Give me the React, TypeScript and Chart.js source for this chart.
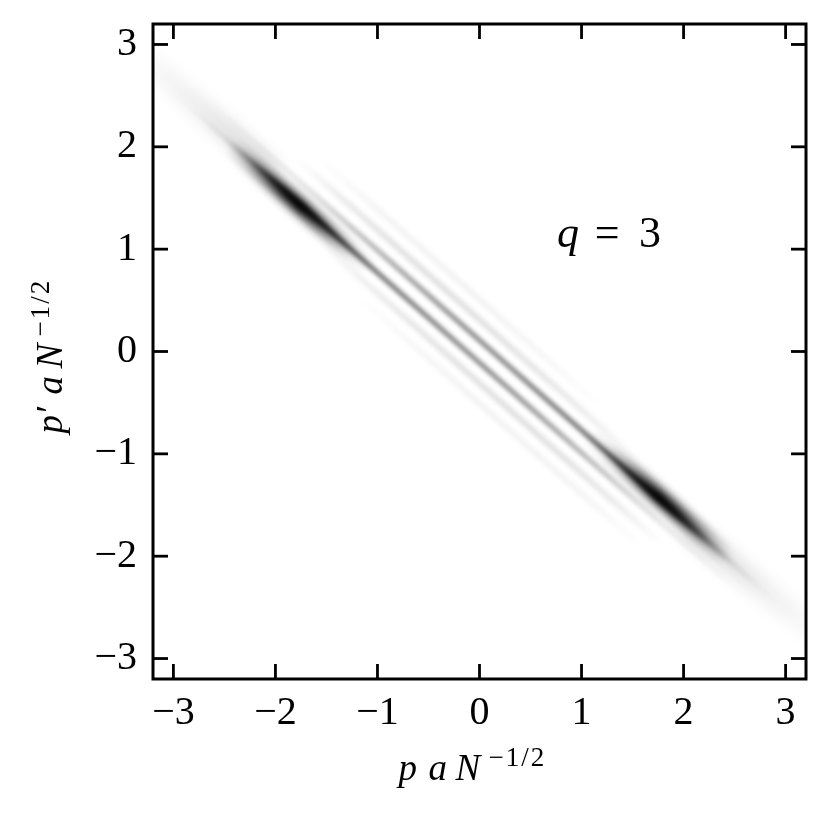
import React, { useEffect, useRef } from 'react';
import { Chart, registerables } from 'chart.js';

Chart.register(...registerables);

// ---- axes ----
const AXIS_MIN = -3.2;
const AXIS_MAX = 3.2;
const TICK_VALUES = [-3, -2, -1, 0, 1, 2, 3];

// ---- stripes of the density (endpoints in data units, darkness 0..1 sampled evenly from start to end) ----
const LOWER_MAIN_ENDS = [{ x: -3.0, y: 2.53 }, { x: 3.0, y: -2.75 }];
const LOWER_MAIN_DARK = [0, 0.02, 0.08, 0.3, 0.7, 0.9, 0.8, 0.62, 0.52, 0.5, 0.48, 0.46, 0.45, 0.43, 0.4, 0.36, 0.3, 0.24, 0.17, 0.11, 0.06, 0.03, 0.01, 0, 0];

const UPPER_MAIN_ENDS = [{ x: -3.0, y: 2.75 }, { x: 3.0, y: -2.53 }];
const UPPER_MAIN_DARK = [0, 0, 0.01, 0.03, 0.06, 0.11, 0.17, 0.24, 0.3, 0.36, 0.4, 0.43, 0.45, 0.46, 0.48, 0.5, 0.52, 0.62, 0.8, 0.9, 0.7, 0.3, 0.08, 0.02, 0];

const UL_LOBE_ENDS = [{ x: -2.45, y: 2.026 }, { x: -1.05, y: 0.794 }];
const UL_LOBE_DARK = [0, 0.25, 0.6, 0.9, 1.0, 0.75, 0.4, 0.12, 0];

const LR_LOBE_ENDS = [{ x: 1.05, y: -0.794 }, { x: 2.45, y: -2.026 }];
const LR_LOBE_DARK = [0, 0.12, 0.4, 0.75, 1.0, 0.9, 0.6, 0.25, 0];

const UL_TAIL_ENDS = [{ x: -3.3, y: 2.88 }, { x: -1.9, y: 1.65 }];
const UL_TAIL_DARK = [0.02, 0.04, 0.06, 0.09, 0.12, 0.12, 0];

const LR_TAIL_ENDS = [{ x: 1.9, y: -1.61 }, { x: 3.3, y: -2.75 }];
const LR_TAIL_DARK = [0, 0.12, 0.12, 0.09, 0.06, 0.04, 0.02];

const UP_FRINGE1_ENDS = [{ x: -1.8, y: 1.894 }, { x: 1.6, y: -1.098 }];
const UP_FRINGE1_DARK = [0, 0.1, 0.14, 0.15, 0.14, 0.12, 0.08, 0];

const DN_FRINGE1_ENDS = [{ x: -1.6, y: 1.098 }, { x: 1.8, y: -1.894 }];
const DN_FRINGE1_DARK = [0, 0.08, 0.12, 0.14, 0.15, 0.14, 0.1, 0];

const UP_FRINGE2_ENDS = [{ x: -1.6, y: 1.918 }, { x: 1.2, y: -0.546 }];
const UP_FRINGE2_DARK = [0, 0.05, 0.06, 0.06, 0.04, 0];

const DN_FRINGE2_ENDS = [{ x: -1.2, y: 0.546 }, { x: 1.6, y: -1.918 }];
const DN_FRINGE2_DARK = [0, 0.04, 0.06, 0.06, 0.05, 0];

// ---- texts ----
const Q_LABEL_POS = { x: 0.76, y: 1.02 };
const Q_LABEL = ['q', '=', '3'];
const X_TITLE = ['p', 'a', 'N', '\u22121/2'];
const Y_TITLE = ['p\u2032', 'a', 'N', '\u22121/2'];

const SERIF = '"Liberation Serif", "DejaVu Serif", serif';

function fmtTick(v: number): string {
  return v < 0 ? '\u2212' + Math.abs(v) : String(v);
}

function gradientColor(ctx: any) {
  const chart = ctx.chart;
  const xs = chart.scales.x;
  const ys = chart.scales.y;
  const ds = ctx.dataset;
  if (!xs || !ys || !chart.chartArea || !ds) return 'rgba(0,0,0,0)';
  const p0 = ds.data[0];
  const p1 = ds.data[ds.data.length - 1];
  const g = chart.ctx.createLinearGradient(
    xs.getPixelForValue(p0.x), ys.getPixelForValue(p0.y),
    xs.getPixelForValue(p1.x), ys.getPixelForValue(p1.y)
  );
  const prof: number[] = ds.profile;
  prof.forEach((a, i) => g.addColorStop(i / (prof.length - 1), `rgba(0,0,0,${a})`));
  return g;
}

function stripe(ends: { x: number; y: number }[], profile: number[], width: number, blur: number) {
  return {
    data: ends,
    profile,
    blur,
    borderWidth: width,
    borderColor: gradientColor,
    borderCapStyle: 'butt',
    pointRadius: 0,
    fill: false,
    tension: 0,
  } as any;
}

const blurPlugin = {
  id: 'stripeBlur',
  beforeDatasetDraw(chart: any, args: any) {
    const ds = chart.data.datasets[args.index];
    chart.ctx.save();
    chart.ctx.filter = `blur(${ds.blur || 0}px)`;
  },
  afterDatasetDraw(chart: any) {
    chart.ctx.restore();
  },
};

const decorPlugin = {
  id: 'decor',
  afterDraw(chart: any) {
    const { ctx, chartArea: a, scales } = chart;
    const x = scales.x;
    const y = scales.y;
    const TL = 15;
    ctx.save();
    ctx.strokeStyle = '#000';
    ctx.lineWidth = 2.8;
    ctx.lineCap = 'butt';
    const seg = (x1: number, y1: number, x2: number, y2: number) => {
      ctx.beginPath();
      ctx.moveTo(x1, y1);
      ctx.lineTo(x2, y2);
      ctx.stroke();
    };
    for (const v of TICK_VALUES) {
      const px = x.getPixelForValue(v);
      seg(px, a.bottom, px, a.bottom - TL);
      seg(px, a.top, px, a.top + TL);
      const py = y.getPixelForValue(v);
      seg(a.left, py, a.left + TL, py);
      seg(a.right, py, a.right - TL, py);
    }
    ctx.lineWidth = 3;
    ctx.strokeRect(a.left, a.top, a.right - a.left, a.bottom - a.top);

    ctx.fillStyle = '#000';
    ctx.textBaseline = 'alphabetic';
    ctx.textAlign = 'left';
    // x title
    const cx = (a.left + a.right) / 2;
    const bx = a.bottom + 101;
    ctx.font = `italic 37px ${SERIF}`;
    ctx.fillText(X_TITLE[0], cx - 81, bx);
    ctx.fillText(X_TITLE[1], cx - 51, bx);
    ctx.fillText(X_TITLE[2], cx - 24, bx);
    ctx.font = `27px ${SERIF}`;
    (ctx as any).letterSpacing = '2px';
    ctx.fillText(X_TITLE[3], cx + 9, bx - 14);
    (ctx as any).letterSpacing = '0px';

    // y title
    const cy = (a.top + a.bottom) / 2;
    ctx.save();
    ctx.translate(62, cy);
    ctx.rotate(-Math.PI / 2);
    ctx.font = `italic 37px ${SERIF}`;
    ctx.fillText(Y_TITLE[0], -82, 0);
    ctx.fillText(Y_TITLE[1], -43, 0);
    ctx.fillText(Y_TITLE[2], -17, 0);
    ctx.font = `27px ${SERIF}`;
    (ctx as any).letterSpacing = '2px';
    ctx.fillText(Y_TITLE[3], 15, -13);
    (ctx as any).letterSpacing = '0px';
    ctx.restore();

    // q = 3 label
    const qx = x.getPixelForValue(Q_LABEL_POS.x);
    const qy = y.getPixelForValue(Q_LABEL_POS.y);
    ctx.font = `italic 44px ${SERIF}`;
    ctx.fillText(Q_LABEL[0], qx, qy);
    ctx.font = `44px ${SERIF}`;
    ctx.textAlign = 'center';
    ctx.fillText(Q_LABEL[1], qx + 50, qy);
    ctx.fillText(Q_LABEL[2], qx + 93, qy);
    ctx.restore();
  },
};

export default function App() {
  const ref = useRef<HTMLCanvasElement | null>(null);
  useEffect(() => {
    if (!ref.current) return;
    const datasets = [
      stripe(UL_TAIL_ENDS, UL_TAIL_DARK, 22, 7),
      stripe(LR_TAIL_ENDS, LR_TAIL_DARK, 22, 7),
      stripe(UL_LOBE_ENDS, UL_LOBE_DARK, 15, 5),
      stripe(LR_LOBE_ENDS, LR_LOBE_DARK, 15, 5),
      stripe(LOWER_MAIN_ENDS, LOWER_MAIN_DARK, 5, 2),
      stripe(UPPER_MAIN_ENDS, UPPER_MAIN_DARK, 5, 2),
      stripe(UP_FRINGE1_ENDS, UP_FRINGE1_DARK, 5, 2.5),
      stripe(DN_FRINGE1_ENDS, DN_FRINGE1_DARK, 5, 2.5),
      stripe(UP_FRINGE2_ENDS, UP_FRINGE2_DARK, 5, 2.5),
      stripe(DN_FRINGE2_ENDS, DN_FRINGE2_DARK, 5, 2.5),
    ];
    const tickFont = { family: SERIF, size: 40 };
    const chart = new Chart(ref.current, {
      type: 'line',
      data: { datasets },
      options: {
        animation: false,
        responsive: false,
        devicePixelRatio: 1,
        layout: { padding: { top: 24, right: 25, left: 0, bottom: 0 } },
        plugins: { legend: { display: false }, tooltip: { enabled: false } },
        scales: {
          x: {
            type: 'linear',
            min: AXIS_MIN,
            max: AXIS_MAX,
            grid: { display: false, drawTicks: false },
            border: { display: false },
            afterBuildTicks: (s: any) => { s.ticks = TICK_VALUES.map((v) => ({ value: v })); },
            afterFit: (s: any) => { s.height = 136; s.paddingLeft = 0; s.paddingRight = 0; s.paddingTop = 0; s.paddingBottom = 0; },
            ticks: { padding: 10, font: tickFont, color: '#000', callback: (v: any) => fmtTick(Number(v)), maxRotation: 0, autoSkip: false },
          },
          y: {
            type: 'linear',
            min: AXIS_MIN,
            max: AXIS_MAX,
            grid: { display: false, drawTicks: false },
            border: { display: false },
            afterBuildTicks: (s: any) => { s.ticks = TICK_VALUES.map((v) => ({ value: v })); },
            afterFit: (s: any) => { s.width = 153; s.paddingLeft = 0; s.paddingRight = 0; s.paddingTop = 0; s.paddingBottom = 0; },
            ticks: { padding: 16, font: tickFont, color: '#000', callback: (v: any) => fmtTick(Number(v)), autoSkip: false },
          },
        },
      } as any,
      plugins: [blurPlugin, decorPlugin],
    });
    return () => chart.destroy();
  }, []);
  return (
    <div style={{ position: 'absolute', left: 0, top: 0, width: 831, height: 815, background: '#fff' }}>
      <canvas ref={ref} width={831} height={815} style={{ width: 831, height: 815, display: 'block' }} />
    </div>
  );
}
